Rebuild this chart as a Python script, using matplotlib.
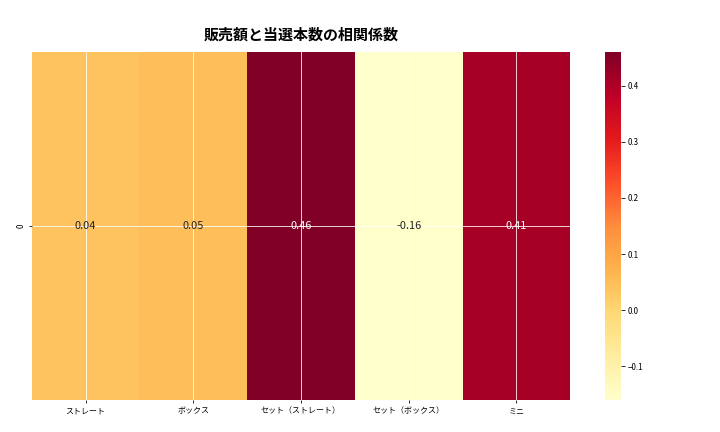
import numpy as np
import pandas as pd
import matplotlib
matplotlib.use("Agg")
import matplotlib.pyplot as plt
import seaborn as sns

plt.rcParams["font.family"] = "Noto Sans CJK JP"

categories = ["ストレート", "ボックス", "セット（ストレート）", "セット（ボックス）", "ミニ"]
corr_values = [0.04, 0.05, 0.46, -0.16, 0.41]

df = pd.DataFrame([corr_values], columns=categories)

fig = plt.figure(figsize=(10, 6), dpi=72)
ax = fig.add_axes([0.044, 0.074, 0.748, 0.806])
cax = fig.add_axes([0.840, 0.074, 0.022, 0.806])

sns.heatmap(df, annot=True, fmt=".2f", cmap="YlOrRd", ax=ax, cbar_ax=cax,
            annot_kws={"fontsize": 11})
ax.grid(True, color="white", linewidth=0.8)
ax.set_axisbelow(False)
ax.tick_params(axis="both", length=3, labelsize=8)
cax.tick_params(labelsize=8)
ax.set_title("販売額と当選本数の相関係数", fontsize=15, fontweight="bold", pad=12)

fig.savefig("out.png", dpi=72)
